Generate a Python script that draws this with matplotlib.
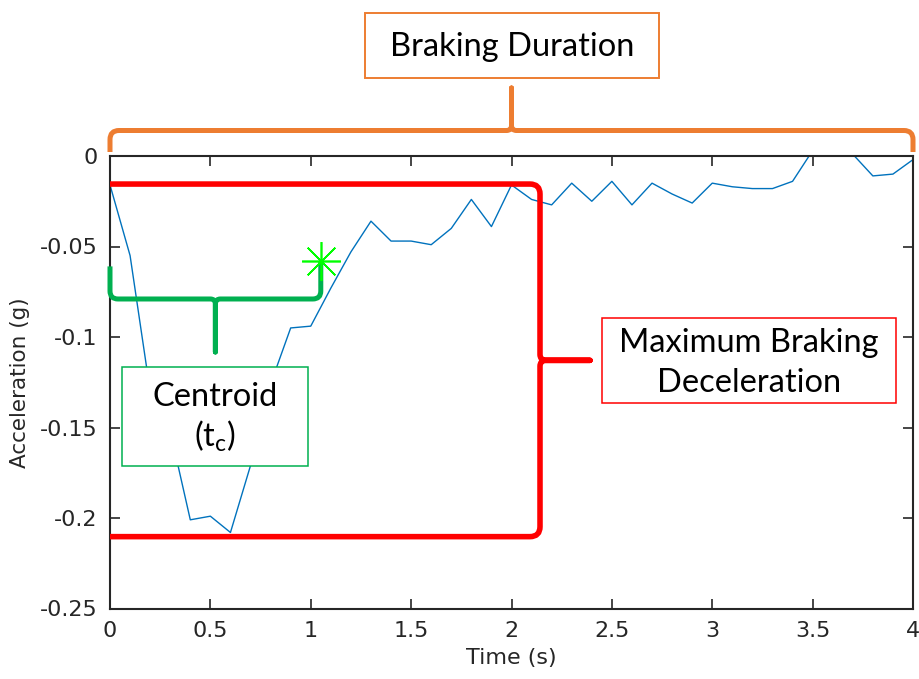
import numpy as np
import matplotlib
matplotlib.use("Agg")
import matplotlib.pyplot as plt
from matplotlib.path import Path
from matplotlib.patches import PathPatch, Rectangle
from matplotlib.transforms import IdentityTransform

plt.rcParams['mathtext.fontset'] = 'custom'
plt.rcParams['mathtext.rm'] = 'Lato'

# accelerometer trace, one sample every 0.1 s
time_s = np.round(np.arange(0, 4.01, 0.1), 1)
accel_g = [-0.016, -0.055, -0.130, -0.152, -0.201, -0.199, -0.208, -0.171, -0.126, -0.095,
           -0.094, -0.073, -0.053, -0.036, -0.047, -0.047, -0.049, -0.040, -0.024, -0.039,
           -0.016, -0.024, -0.027, -0.015, -0.025, -0.014, -0.027, -0.015, -0.021, -0.026,
           -0.015, -0.017, -0.018, -0.018, -0.014, 0.003, 0.005, 0.001, -0.011, -0.010,
           -0.002]

xticks = [0, 0.5, 1, 1.5, 2, 2.5, 3, 3.5, 4]
xtick_labels = ['0', '0.5', '1', '1.5', '2', '2.5', '3', '3.5', '4']
yticks = [-0.25, -0.2, -0.15, -0.1, -0.05, 0]
ytick_labels = ['-0.25', '-0.2', '-0.15', '-0.1', '-0.05', '0']

# centroid marker and the spans the braces cover
centroid_t, centroid_g = 1.05, -0.058
decel_top, decel_bottom = -0.0155, -0.2103
decel_brace_t = 2.142
centroid_spine_g, centroid_left_g = -0.079, -0.061

ORANGE = '#ED7D31'
RED = '#FF0000'
GREEN = '#00B050'
INK = '#262626'
ANNOT_FONT = ['Lato', 'DejaVu Sans']

W, H = 919, 679
fig = plt.figure(figsize=(W / 100, H / 100), dpi=100)
ax = fig.add_axes([110 / W, 1 - 608.5 / H, 803 / W, 452.5 / H])

ax.plot(time_s, accel_g, color='#0072BD', lw=1.0, zorder=2)

ax.set_xlim(0, 4)
ax.set_ylim(-0.25, 0)
ax.set_xticks(xticks)
ax.set_xticklabels(xtick_labels)
ax.set_yticks(yticks)
ax.set_yticklabels(ytick_labels)
ax.tick_params(direction='in', length=7, width=1.2, top=True, right=True,
               labelsize=16, colors=INK, pad=9)
for sp in ax.spines.values():
    sp.set_color(INK)
    sp.set_linewidth(1.5)
ax.set_xlabel('Time (s)', fontsize=16, color=INK, labelpad=5)
ax.set_ylabel('Acceleration (g)', fontsize=15.5, color=INK, labelpad=7)


def disp(t, g):
    return ax.transData.transform((t, g))


def brace(c0, c1, n, arm0, arm1, tip, color, lw, r=9, r2=5, zorder=3):
    # curly brace: spine from c0 to c1, arms bent back against n, point along n
    c0 = np.asarray(c0, float)
    c1 = np.asarray(c1, float)
    n = np.asarray(n, float)
    L = np.linalg.norm(c1 - c0)
    u = (c1 - c0) / L
    m = L / 2

    def P(s, v):
        return c0 + u * s + n * v

    verts = [P(0, -arm0), P(0, -r), P(0, 0), P(r, 0),
             P(m - r2, 0), P(m, 0), P(m, r2), P(m, tip),
             P(m, r2), P(m, 0), P(m + r2, 0),
             P(L - r, 0), P(L, 0), P(L, -r), P(L, -arm1)]
    codes = [Path.MOVETO, Path.LINETO, Path.CURVE3, Path.CURVE3,
             Path.LINETO, Path.CURVE3, Path.CURVE3, Path.LINETO,
             Path.LINETO, Path.CURVE3, Path.CURVE3,
             Path.LINETO, Path.CURVE3, Path.CURVE3, Path.LINETO]
    ax.add_patch(PathPatch(Path(verts, codes), fill=False, edgecolor=color, lw=lw,
                           joinstyle='round', capstyle='butt',
                           transform=IdentityTransform(), clip_on=False, zorder=zorder))


def text_box(x0, y0, x1, y1, lines, baselines, color, lw, zorder=4):
    # box and text baselines given in pixels from the top-left corner
    ax.add_patch(Rectangle((x0, H - y1), x1 - x0, y1 - y0, facecolor='white',
                           edgecolor=color, lw=lw, transform=IdentityTransform(),
                           clip_on=False, zorder=zorder))
    for line, yb in zip(lines, baselines):
        ax.text((x0 + x1) / 2, H - yb, line, ha='center', va='baseline',
                fontsize=23.5, family=ANNOT_FONT, color='black',
                transform=IdentityTransform(), zorder=zorder + 0.1)


# braking duration: whole time axis, above the plot
top_l = disp(0, 0)
top_r = disp(4, 0)
brace(top_l + [0, 25.5], top_r + [0, 25.5], (0, 1), 21.5, 21.5, 42.5, ORANGE, 3.6)
text_box(364.7, 13.3, 659, 77.7, ['Braking Duration'], [56], ORANGE, 1.4)

# maximum braking deceleration
c0 = disp(decel_brace_t, decel_top)
c1 = disp(decel_brace_t, decel_bottom)
arm = c0[0] - disp(0, decel_top)[0]
brace(c0, c1, (1, 0), arm, arm, 50, RED, 4.0, r=10, r2=6)
text_box(601.7, 318, 895.7, 402.7, ['Maximum Braking', 'Deceleration'],
         [351.5, 392.5], RED, 1.1)

# centroid
text_box(121.7, 366.7, 307.7, 466, ['Centroid', '(t$_\\mathrm{c}$)'],
         [406.5, 446], GREEN, 1.1, zorder=4)
g0 = disp(0, centroid_spine_g)
g1 = disp(centroid_t, centroid_spine_g)
arm0 = disp(0, centroid_left_g)[1] - g0[1]
arm1 = disp(centroid_t, centroid_g)[1] - g1[1]
brace(g0, g1, (0, -1), arm0, arm1, 53, GREEN, 3.6, r=8, r2=5, zorder=5)

ax.plot([centroid_t], [centroid_g], ls='none', marker=(8, 2, 0), ms=28,
        mec='#00FF00', mew=1.2, clip_on=False, zorder=6)

fig.savefig('out.png', dpi=100)
